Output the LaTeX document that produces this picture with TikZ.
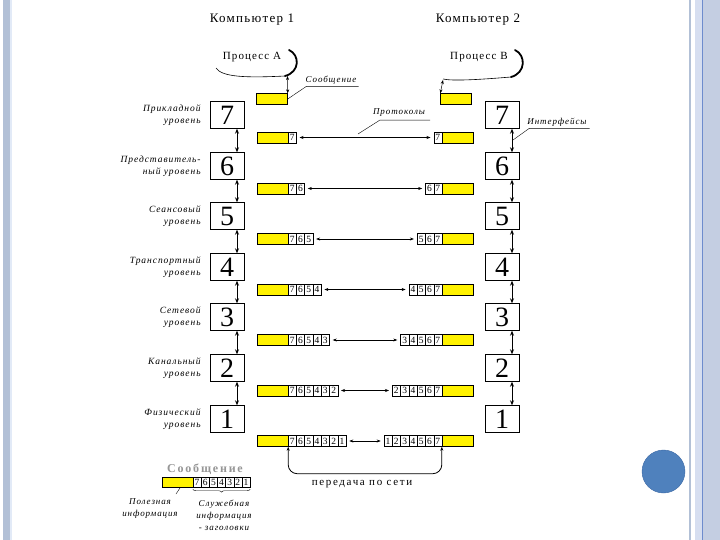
\documentclass[tikz,border=0pt]{standalone}
\usepackage{fontspec}
\setmainfont{Liberation Serif}
\newfontfamily\spacedfont{Liberation Serif}[LetterSpace=10]
\newfontfamily\widefont{Liberation Serif}[LetterSpace=15]
\usetikzlibrary{positioning,arrows.meta,decorations.pathreplacing}

\definecolor{stripeA}{RGB}{178,192,214}
\definecolor{stripeB}{RGB}{226,234,247}
\definecolor{stripeC}{RGB}{196,206,226}
\definecolor{stripeD}{RGB}{214,222,240}
\definecolor{stripeLine}{RGB}{110,140,205}
\definecolor{dotblue}{RGB}{79,129,189}
\definecolor{dotedge}{RGB}{60,105,165}
\definecolor{legendgray}{RGB}{150,150,150}

\begin{document}
\begin{tikzpicture}[x=1pt,y=-1pt,
    layer/.style={draw=black, minimum width=34pt, minimum height=27pt, inner sep=0pt, font=\fontsize{28}{28}\selectfont},
    msg/.style={draw=black, fill=yellow, minimum width=31pt, minimum height=11pt, inner sep=0pt},
    hdr/.style={draw=black, fill=white, minimum width=8.3pt, minimum height=11pt, inner sep=0pt, font=\fontsize{9.5}{9.5}\selectfont},
    lvl/.style={font=\spacedfont\itshape\fontsize{9.5}{11.5}\selectfont, align=right, inner sep=0pt},
    note/.style={font=\spacedfont\itshape\fontsize{9}{12}\selectfont, inner sep=0pt},
    head/.style={font=\spacedfont\fontsize{13}{13}\selectfont},
    proc/.style={font=\spacedfont\fontsize{11}{11}\selectfont},
    iface/.style={<->, >={Stealth[length=5pt,width=4pt]}, line width=1pt},
    proto/.style={<->, >={Stealth[length=4pt,width=3pt]}, line width=0.5pt},
    bracket/.style={line width=1.8pt, line cap=round}]

    \fill[white] (0,0) rectangle (720,540);
    \useasboundingbox (0,0) rectangle (720,540);

    % slide frame
    \fill[stripeA] (3,0) rectangle (9.5,540);
    \fill[stripeB] (9.5,0) rectangle (12,540);
    \fill[stripeA] (689,0) rectangle (691,540);
    \fill[stripeD] (695,0) rectangle (702,540);
    \fill[stripeC] (703,0) rectangle (720,540);
    \draw[stripeLine] (702.5,0) -- (702.5,540);
    \fill[dotblue, draw=dotedge] (663.5,471.5) circle (21.5);

    \node[head] (pc1) at (252,20) {Компьютер 1};
    \node[head] (pc2) at (478,20) {Компьютер 2};

    \node[proc] (procA) at (252,57) {Процесс А};
    \node[proc] (procB) at (479,57) {Процесс В};

    \draw[line width=0.6pt] (216,68) .. controls (222,77) and (245,78) .. (285,76);
    \draw[bracket] (285,76) .. controls (300,72) and (300,55) .. (289,50);
    \draw[line width=0.6pt] (443,79) .. controls (452,81) and (475,80) .. (511,77);
    \draw[bracket] (511,77) .. controls (526,73) and (526,55) .. (515,50);

    \node[msg] (msgA) at (272,99) {};
    \node[msg] (msgB) at (456,99) {};

    \coordinate (pa) at (287.5,76);
    \coordinate (pb) at (443,80);
    \path[proto] (pa) edge (msgA.north east);
    \path[proto] (pb) edge (msgB.north west);

    \node[note] (msgnote) at (331,80) {Сообщение};
    \draw ([xshift=2pt,yshift=-2pt]msgnote.south east) -- ([xshift=1pt,yshift=-2pt]msgnote.south west) -- (msgA.east);

	% levels of computer 1
    \node[layer] (L7) at (227,115) {7};
    \node[layer] (L6) at (227,166) {6};
    \node[layer] (L5) at (227,216) {5};
    \node[layer] (L4) at (227,267) {4};
    \node[layer] (L3) at (227,317) {3};
    \node[layer] (L2) at (227,368) {2};
    \node[layer] (L1) at (227,419) {1};

	% levels of computer 2
    \node[layer] (R7) at (502,115) {7};
    \node[layer] (R6) at (502,166) {6};
    \node[layer] (R5) at (502,216) {5};
    \node[layer] (R4) at (502,267) {4};
    \node[layer] (R3) at (502,317) {3};
    \node[layer] (R2) at (502,368) {2};
    \node[layer] (R1) at (502,419) {1};

    \node[lvl, left=9pt of L7] (t7) {Прикладной\\уровень};
    \node[lvl, left=9pt of L6] (t6) {Представитель-\\ный уровень};
    \node[lvl, left=9pt of L5] (t5) {Сеансовый\\уровень};
    \node[lvl, left=9pt of L4] (t4) {Транспортный\\уровень};
    \node[lvl, left=9pt of L3] (t3) {Сетевой\\уровень};
    \node[lvl, left=9pt of L2] (t2) {Канальный\\уровень};
    \node[lvl, left=9pt of L1] (t1) {Физический\\уровень};

    \path[iface] ([xshift=10pt]L7.south) edge ([xshift=10pt]L6.north);
    \path[iface] ([xshift=10pt]L6.south) edge ([xshift=10pt]L5.north);
    \path[iface] ([xshift=10pt]L5.south) edge ([xshift=10pt]L4.north);
    \path[iface] ([xshift=10pt]L4.south) edge ([xshift=10pt]L3.north);
    \path[iface] ([xshift=10pt]L3.south) edge ([xshift=10pt]L2.north);
    \path[iface] ([xshift=10pt]L2.south) edge ([xshift=10pt]L1.north);

    \path[iface] ([xshift=10pt]R7.south) edge ([xshift=10pt]R6.north);
    \path[iface] ([xshift=10pt]R6.south) edge ([xshift=10pt]R5.north);
    \path[iface] ([xshift=10pt]R5.south) edge ([xshift=10pt]R4.north);
    \path[iface] ([xshift=10pt]R4.south) edge ([xshift=10pt]R3.north);
    \path[iface] ([xshift=10pt]R3.south) edge ([xshift=10pt]R2.north);
    \path[iface] ([xshift=10pt]R2.south) edge ([xshift=10pt]R1.north);

	% packets with headers
    \foreach \k/\y in {7/137.5,6/188.5,5/239,4/289.5,3/340,2/390.5,1/441}{
        \node[msg] (ly\k) at (272.5,\y) {};
        \node[msg] (ry\k) at (457.5,\y) {};
        \foreach \d in {7,...,\k}{
            \node[hdr] (lc\k\d) at ({288+(7.5-\d)*8.3},\y) {\d};
            \node[hdr] (rc\k\d) at ({442-(7.5-\d)*8.3},\y) {\d};
        }
        \path[proto] (lc\k\k) edge[shorten <=3pt, shorten >=3pt] (rc\k\k);
    }

    \node[note] (protonote) at (399,113) {Протоколы};
    \coordinate (protoTip) at (358,134);
    \draw ([xshift=5pt,yshift=-3pt]protonote.south east) -- ([xshift=7pt,yshift=-3pt]protonote.south west) -- (protoTip);

    \node[note] (ifnote) at (557,122) {Интерфейсы};
    \coordinate (ifTip) at (513,140);
    \draw ([xshift=3pt,yshift=-2pt]ifnote.south east) -- ([xshift=2pt,yshift=-2pt]ifnote.south west) -- (ifTip);

	% transfer over the network
    \draw[<->, >={Stealth[length=4pt,width=3pt]}, line width=0.8pt, rounded corners=9pt] (ly1.south east) -- ++(0,27) -| (ry1.south west);
    \node[font=\widefont\fontsize{11}{11}\selectfont] (net) at (362,484) {передача по сети};

	% legend
    \node[font=\widefont\bfseries\fontsize{12}{12}\selectfont, text=legendgray] (legT) at (205,469) {Сообщение};
    \node[msg, minimum height=10pt] (legY) at (177.5,482) {};
    \foreach \d in {7,...,1}{
        \node[hdr, minimum height=10pt, minimum width=8.15pt] (lg\d) at ({193+(7.5-\d)*8.15},482) {\d};
    }
    \draw[decorate, decoration={brace, mirror, amplitude=3pt}] ([yshift=-2pt]lg7.south west) -- ([yshift=-2pt]lg1.south east);

    \node[note, align=center] (useful) at (150,509) {Полезная\\информация};
    \node[note, align=center] (service) at (224,515) {Служебная\\информация\\- заголовки};
    \coordinate (usefulTip) at (176,494);
    \draw ([xshift=3pt]legY.south) -- (usefulTip);

\end{tikzpicture}
\end{document}
